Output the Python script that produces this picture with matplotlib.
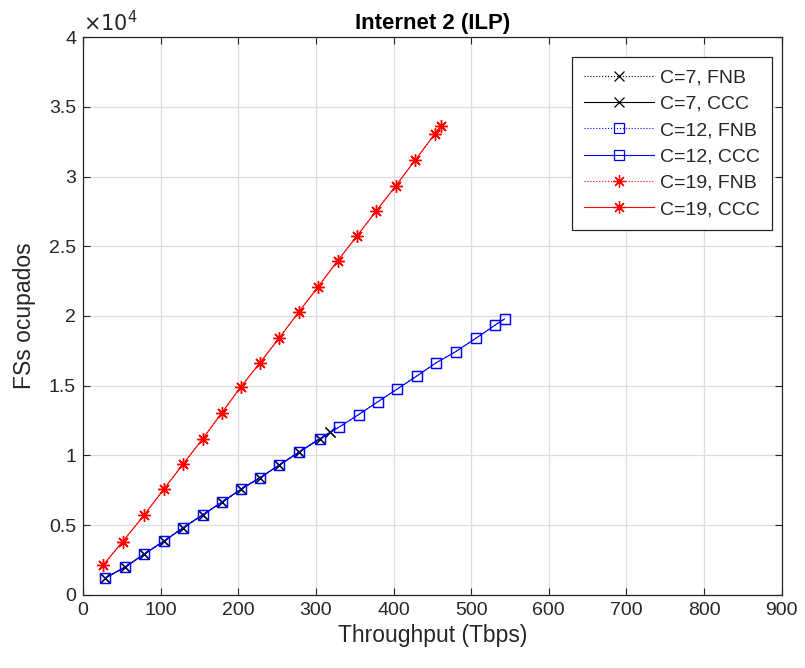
import matplotlib
matplotlib.use("Agg")
import matplotlib.pyplot as plt
from matplotlib.ticker import FuncFormatter

plt.rcParams['font.family'] = ['Liberation Sans', 'DejaVu Sans']

# Throughput (Tbps) and occupied frequency slots for each core count
c7_x = [28, 54, 79, 104, 129, 154, 179, 204, 228, 253, 278, 305, 318]
c7_y = [1200, 1990, 2940, 3850, 4820, 5740, 6650, 7600, 8410, 9320, 10230, 11200, 11660]

c12_x = [28, 54, 79, 104, 129, 154, 179, 204, 228, 253, 278, 305, 330, 355, 380,
         405, 430, 455, 480, 506, 531, 543]
c12_y = [1200, 1990, 2940, 3850, 4820, 5740, 6650, 7600, 8410, 9320, 10230, 11200,
         12040, 12930, 13860, 14770, 15700, 16650, 17440, 18400, 19350, 19790]

c19_x = [26, 51, 79, 104, 129, 154, 179, 203, 228, 253, 278, 303, 328, 353, 378,
         403, 428, 453, 461]
c19_y = [2150, 3820, 5740, 7580, 9390, 11180, 13070, 14890, 16650, 18440, 20290,
         22100, 23960, 25740, 27550, 29340, 31180, 33030, 33620]

x_ticks = [0, 100, 200, 300, 400, 500, 600, 700, 800, 900]
y_ticks = [0, 5000, 10000, 15000, 20000, 25000, 30000, 35000, 40000]

axis_col = '#262626'
fig = plt.figure(figsize=(8.05, 6.68), dpi=100)
ax = fig.add_axes([0.1031, 0.1093, 0.8679, 0.8353])

star = (8, 2, 0)
series = [
    (c7_x, c7_y, 'k', 'x', 6.5, 'C=7'),
    (c12_x, c12_y, 'b', 's', 7, 'C=12'),
    (c19_x, c19_y, 'r', star, 9, 'C=19'),
]
for xs, ys, col, mk, ms, name in series:
    ax.plot(xs, ys, linestyle=':', color=col, marker=mk, markersize=ms,
            markerfacecolor='none', markeredgecolor=col, linewidth=0.8,
            markeredgewidth=0.9, label=f'{name}, FNB')
    ax.plot(xs, ys, linestyle='-', color=col, marker=mk, markersize=ms,
            markerfacecolor='none', markeredgecolor=col, linewidth=0.8,
            markeredgewidth=0.9, label=f'{name}, CCC')

ax.set_xlim(0, 900)
ax.set_ylim(0, 40000)
ax.set_xticks(x_ticks)
ax.set_yticks(y_ticks)
ax.yaxis.set_major_formatter(FuncFormatter(lambda v, p: f'{v/1e4:g}'))
ax.grid(True, color='#dcdcdc', linewidth=0.9)
ax.set_axisbelow(True)
ax.tick_params(direction='in', top=True, right=True, length=5, width=0.8,
               colors=axis_col, labelsize=14, pad=5)
for s in ax.spines.values():
    s.set_color(axis_col)
    s.set_linewidth(0.9)

ax.set_title('Internet 2 (ILP)', fontsize=16, fontweight='bold', color='black', pad=6)
ax.set_xlabel('Throughput (Tbps)', fontsize=16.5, color=axis_col, labelpad=4)
ax.set_ylabel('FSs ocupados', fontsize=16.5, color=axis_col, labelpad=9)
ax.text(0.0, 1.003, r'$\times 10^{4}$', transform=ax.transAxes, fontsize=15,
        color=axis_col, ha='left', va='bottom')

leg = ax.legend(loc='upper right', bbox_to_anchor=(0.986, 0.964), fontsize=14,
                handlelength=3.6, labelspacing=0.45, borderpad=0.6,
                handletextpad=0.35, fancybox=False, framealpha=1,
                edgecolor=axis_col, borderaxespad=0)
leg.get_frame().set_linewidth(0.9)
for t in leg.get_texts():
    t.set_color(axis_col)

fig.savefig('out.png', dpi=100)
